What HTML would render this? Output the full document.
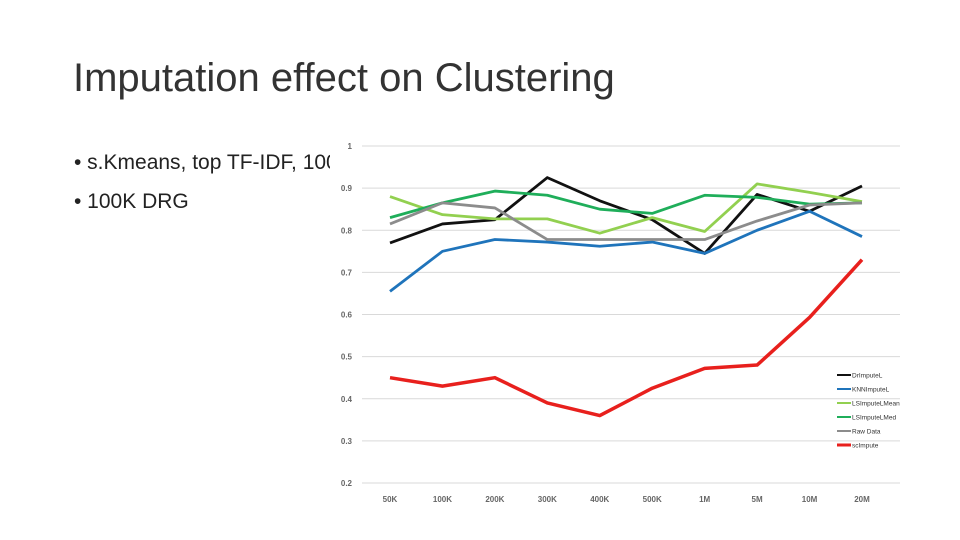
<!DOCTYPE html>
<html><head><meta charset="utf-8"><style>
body{margin:0;width:960px;height:540px;background:#fff;overflow:hidden;position:relative;font-family:"Liberation Sans",sans-serif}
#title{position:absolute;left:73px;top:56px;font-size:40px;color:#333;white-space:nowrap}
.b{position:absolute;left:74px;font-size:21px;color:#222;white-space:nowrap}
svg{position:absolute;left:0;top:0}
</style></head><body>
<div id="title">Imputation effect on Clustering</div>
<div class="b" style="top:151px">• s.Kmeans, top TF-IDF, 1000 genes</div>
<div class="b" style="top:190px">• 100K DRG</div>
<svg id="chart" width="960" height="540"></svg>
<script>
const categories=["50K","100K","200K","300K","400K","500K","1M","5M","10M","20M"];
const yTicks=[0.2,0.3,0.4,0.5,0.6,0.7,0.8,0.9,1];
const yTickLabels=["0.2","0.3","0.4","0.5","0.6","0.7","0.8","0.9","1"];
const seriesNames=["DrImputeL","KNNImputeL","LSImputeLMean","LSImputeLMed","Raw Data","scImpute"];
const drImpute=[0.77,0.815,0.825,0.925,0.87,0.825,0.745,0.885,0.845,0.905];
const knnImpute=[0.655,0.75,0.778,0.772,0.762,0.772,0.745,0.8,0.845,0.785];
const lsMean=[0.88,0.837,0.827,0.827,0.793,0.83,0.797,0.91,0.89,0.868];
const lsMed=[0.83,0.865,0.893,0.883,0.85,0.84,0.883,0.878,0.862,0.865];
const rawData=[0.815,0.865,0.853,0.778,0.778,0.778,0.778,0.822,0.86,0.865];
const scImpute=[0.45,0.43,0.45,0.39,0.36,0.425,0.472,0.48,0.593,0.73];
const seriesColors=["#111","#1f74bb","#92d050","#1fae5a","#8c8c8c","#e8201d"];
const series=[drImpute,knnImpute,lsMean,lsMed,rawData,scImpute];
const NS="http://www.w3.org/2000/svg";
const svg=document.getElementById('chart');
const X=i=>390+i*(862-390)/(categories.length-1);
const Y=v=>483-(v-0.2)*(483-146)/0.8;
function mk(t,a){const e=document.createElementNS(NS,t);for(const k in a)e.setAttribute(k,a[k]);svg.appendChild(e);return e;}
const bg=mk('rect',{x:330,y:130,width:580,height:380,fill:'#fff'});


yTicks.forEach((t,i)=>{
 const l=mk('line',{x1:362,x2:900,y1:Y(t),y2:Y(t),stroke:'#d9d9d9','stroke-width':1});
 
 
 const tx=mk('text',{x:352,y:Y(t)+3,'text-anchor':'end','font-size':8,'font-weight':'bold',fill:'#666'});
 tx.textContent=yTickLabels[i];
 
 
});
categories.forEach((c,i)=>{
 const tx=mk('text',{x:X(i),y:502,'text-anchor':'middle','font-size':8,'font-weight':'bold',fill:'#666'});
 tx.textContent=c;
 
 
});
series.forEach((s,k)=>{
 const p=mk('polyline',{points:s.map((v,i)=>X(i)+','+Y(v)).join(' '),fill:'none',stroke:seriesColors[k],'stroke-width':k==5?3.5:2.8,'stroke-linejoin':'round'});
 
 
});
seriesNames.forEach((n,k)=>{
 const y=375+k*14;
 const l=mk('line',{x1:837,x2:851,y1:y,y2:y,stroke:seriesColors[k],'stroke-width':k==5?3:2});
 
 
 const tx=mk('text',{x:852,y:y+2.5,'font-size':6.5,fill:'#333'});
 tx.textContent=n;
 
 
});
</script>
</body></html>
